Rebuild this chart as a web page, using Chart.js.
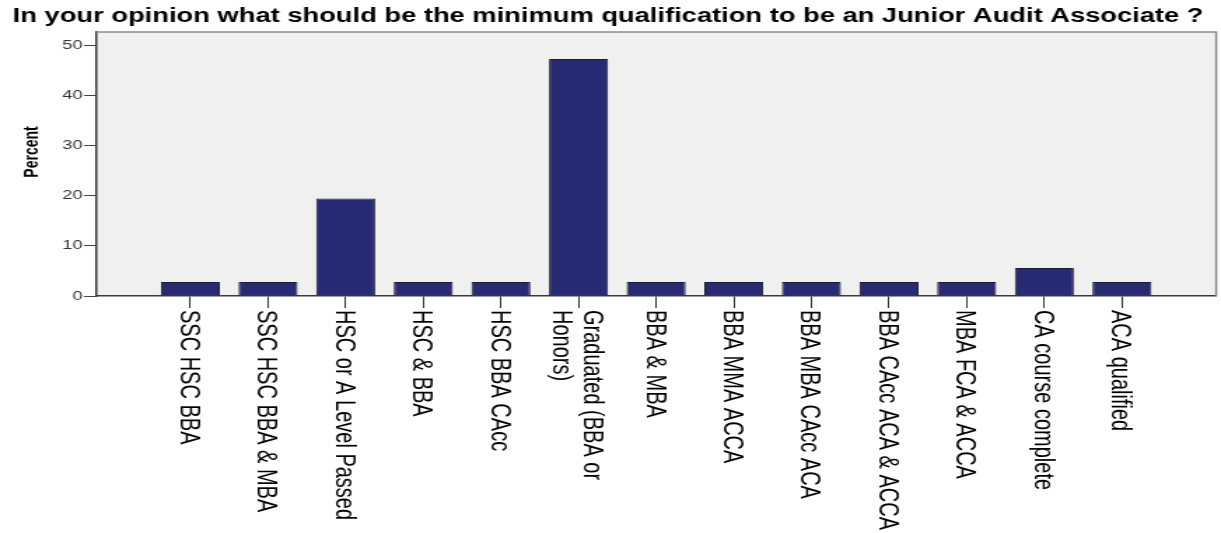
<!DOCTYPE html>
<html><head><meta charset="utf-8">
<script src="https://cdn.jsdelivr.net/npm/chart.js@4.4.1/dist/chart.umd.min.js"></script>
<style>
html,body{margin:0;padding:0;background:#fff;overflow:hidden;}
#wrap{width:872px;height:533px;transform:scaleX(1.40023);transform-origin:0 0;}
canvas{display:block;}
</style></head><body>
<div id="wrap"><canvas id="c" width="872" height="533"></canvas></div>
<script>
const categories = [
  ['SSC HSC BBA'], ['SSC HSC BBA & MBA'], ['HSC or A Level Passed'], ['HSC & BBA'], ['HSC BBA CAcc'],
  ['Graduated (BBA or', 'Honors)'], ['BBA & MBA'], ['BBA MMA ACCA'], ['BBA MBA CAcc ACA'],
  ['BBA CAcc ACA & ACCA'], ['MBA FCA & ACCA'], ['CA course complete'], ['ACA qualified']
];
const percentValues = [2.78, 2.78, 19.44, 2.78, 2.78, 47.22, 2.78, 2.78, 2.78, 2.78, 2.78, 5.56, 2.78];
const yTicks = [0, 10, 20, 30, 40, 50];
const titleText = 'In your opinion what should be the minimum qualification to be an Junior Audit Associate ?';
const yAxisTitle = 'Percent';

const FONT = '"Liberation Sans", Arial, sans-serif';

const plotFrame = {
  id: 'plotFrame',
  beforeDraw(chart) {
    const {ctx, chartArea: a} = chart;
    ctx.save();
    ctx.fillStyle = '#f0f0f0';
    ctx.fillRect(a.left, a.top, a.right - a.left, a.bottom - a.top);
    ctx.restore();
  },
  afterDraw(chart) {
    const {ctx, chartArea: a} = chart;
    ctx.save();
    ctx.strokeStyle = '#8a8a8a';
    ctx.lineWidth = 1.5;
    ctx.beginPath();
    ctx.moveTo(a.left, a.top);
    ctx.lineTo(a.right, a.top);
    ctx.lineTo(a.right, a.bottom);
    ctx.stroke();
    // y-axis title
    ctx.save();
    ctx.fillStyle = '#000';
    ctx.font = 'bold 14px ' + FONT;
    ctx.textAlign = 'center';
    ctx.textBaseline = 'middle';
    ctx.translate(23, 152);
    ctx.rotate(-Math.PI / 2);
    ctx.fillText(yAxisTitle, 0, 0);
    ctx.restore();
    // category labels, rotated to read top-to-bottom
    const xs = chart.scales.x;
    ctx.fillStyle = '#000';
    ctx.font = '20px ' + FONT;
    ctx.textAlign = 'left';
    ctx.textBaseline = 'middle';
    categories.forEach((lines, i) => {
      const px = xs.getPixelForValue(i) - 1.5;
      ctx.save();
      ctx.translate(px, a.bottom + 14);
      ctx.rotate(Math.PI / 2);
      const lh = 21.4;
      lines.forEach((t, j) => ctx.fillText(t, 0, (j - (lines.length - 1) / 2) * lh));
      ctx.restore();
    });
    ctx.restore();
  }
};

new Chart(document.getElementById('c'), {
  type: 'bar',
  data: {
    datasets: [{
      label: yAxisTitle,
      data: percentValues.map((v, i) => ({x: i, y: v})),
      backgroundColor: '#282b74',
      borderColor: '#1c1c2c',
      borderWidth: 1,
      barPercentage: 0.76,
      categoryPercentage: 1
    }]
  },
  options: {
    responsive: false,
    animation: false,
    devicePixelRatio: 1,
    layout: {padding: {left: 0, right: 3.4, top: 0, bottom: 0}},
    plugins: {
      legend: {display: false},
      tooltip: {enabled: false},
      title: {
        display: true, text: titleText, color: '#000',
        font: {family: FONT, size: 19.5, weight: 'bold', lineHeight: 1.2},
        padding: {top: 4.6, bottom: 4}
      }
    },
    scales: {
      x: {
        type: 'linear', min: -1.215, max: 13.215, offset: false,
        ticks: {display: false, stepSize: 1, includeBounds: false},
        grid: {offset: false, drawOnChartArea: false, tickLength: 12, color: '#333', lineWidth: 1},
        border: {display: true, color: '#3a3a3a', width: 1.5},
        afterBuildTicks(s) { s.ticks = categories.map((_, i) => ({value: i})); },
        afterFit(s) { s.height = 533 - 296; }
      },
      y: {
        min: 0, max: 52.6,
        ticks: {color: '#333', font: {family: FONT, size: 13}, padding: 1, includeBounds: false},
        grid: {drawOnChartArea: false, tickLength: 8.6, color: '#444'},
        border: {display: true, color: '#3a3a3a', width: 1.5},
        title: {display: false, text: yAxisTitle},
        afterBuildTicks(s) { s.ticks = yTicks.map(v => ({value: v})); },
        afterFit(s) { s.width = 68.6; }
      }
    }
  },
  plugins: [plotFrame]
});
</script>
</body></html>
